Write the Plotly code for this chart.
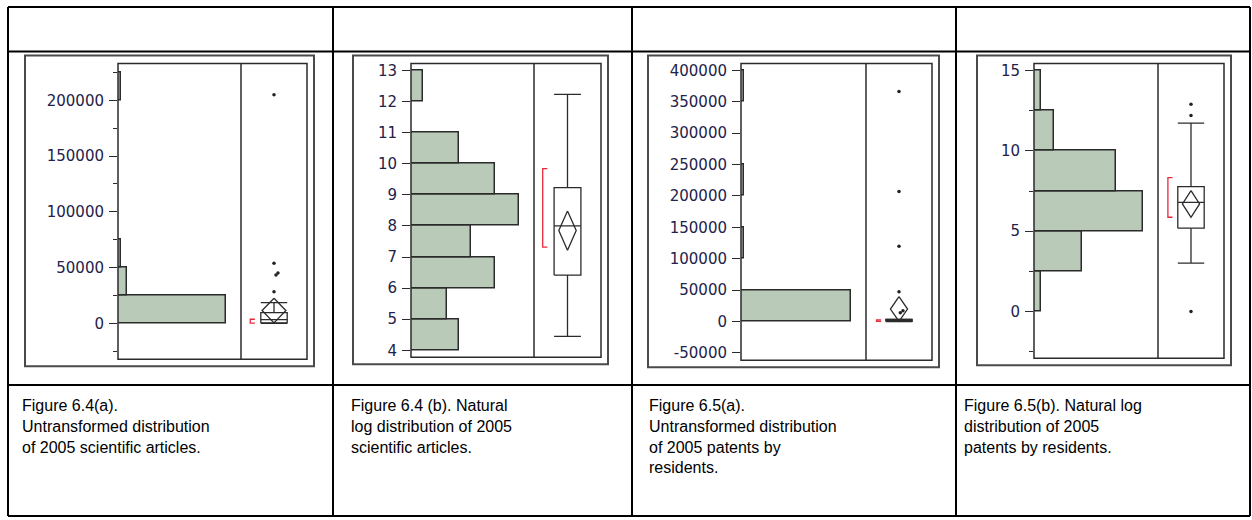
import plotly.graph_objects as go

W, H = 1252, 520

# ---------------- data ----------------
# Fig 6.4(a): scientific articles 2005, bins of 25,000 (lower edges)
art_bins = [0, 25000, 50000, 75000, 100000, 125000, 150000, 175000, 200000]
art_counts = [35, 3, 1, 0, 0, 0, 0, 0, 1]
art_ticks = [0, 50000, 100000, 150000, 200000]
art_outliers = [205000, 54000, 45300, 43500, 28400]
art_box = dict(low=50, q1=500, med=3500, q3=9800, high=18700,
               mean=11600, ci=11000, half_lo=300, half_hi=3800)

# Fig 6.4(b): natural log of scientific articles, bins of 1
ln_art_bins = [4, 5, 6, 7, 8, 9, 10, 11, 12]
ln_art_counts = [4, 3, 7, 5, 9, 7, 4, 0, 1]
ln_art_ticks = [4, 5, 6, 7, 8, 9, 10, 11, 12, 13]
ln_art_outliers = []
ln_art_box = dict(low=4.45, q1=6.42, med=8.0, q3=9.23, high=12.23,
                  mean=7.85, ci=0.63, half_lo=7.32, half_hi=9.84)

# Fig 6.5(a): patents by residents 2005, bins of 50,000
pat_bins = [0, 50000, 100000, 150000, 200000, 250000, 300000, 350000]
pat_counts = [37, 0, 1, 0, 1, 0, 0, 1]
pat_ticks = [-50000, 0, 50000, 100000, 150000, 200000, 250000, 300000, 350000, 400000]
pat_outliers = [366600, 207000, 120000, 47400, 17000, 14000]
pat_box = dict(low=0, q1=300, med=1200, q3=3500, high=3500,
               mean=19800, ci=19700, half_lo=200, half_hi=2500)

# Fig 6.5(b): natural log of patents by residents, bins of 2.5
ln_pat_bins = [0, 2.5, 5, 7.5, 10, 12.5]
ln_pat_counts = [1, 7, 16, 12, 3, 1]
ln_pat_ticks = [0, 5, 10, 15]
ln_pat_outliers = [12.9, 12.2, 0.0]
ln_pat_box = dict(low=3.02, q1=5.19, med=6.79, q3=7.78, high=11.73,
                  mean=6.7, ci=0.83, half_lo=5.87, half_hi=8.33)

captions = [
    "Figure 6.4(a).<br>Untransformed distribution<br>of 2005 scientific articles.",
    "Figure 6.4 (b). Natural<br>log distribution of 2005<br>scientific articles.",
    "Figure 6.5(a).<br>Untransformed distribution<br>of 2005 patents by<br>residents.",
    "Figure 6.5(b). Natural log<br>distribution of 2005<br>patents by residents.",
]

# ---------------- layout of the four panels (pixels) ----------------
panels = [
    dict(bins=art_bins, counts=art_counts, bw=25000, ticks=art_ticks, minor=25000,
         yr=[-32000, 232900], outer=(25, 54, 314, 367), inner=(118, 62, 307, 360), div=241,
         box=art_box, pts=art_outliers, jit=[0, 0, 0.06, 0.03, 0], dhw=0.18, bx=0.14),
    dict(bins=ln_art_bins, counts=ln_art_counts, bw=1, ticks=ln_art_ticks, minor=None,
         yr=[3.777, 13.223], outer=(353, 54, 608, 365), inner=(411, 62, 601, 358), div=534,
         box=ln_art_box, pts=ln_art_outliers, jit=[], dhw=0.13, bx=0.13),
    dict(bins=pat_bins, counts=pat_counts, bw=50000, ticks=pat_ticks, minor=None,
         yr=[-61660, 411070], outer=(648, 54, 939, 368), inner=(741, 62, 932, 361), div=866,
         box=pat_box, pts=pat_outliers, jit=[0, 0, 0, 0, 0.06, 0.02], dhw=0.13, bx=0.16),
    dict(bins=ln_pat_bins, counts=ln_pat_counts, bw=2.5, ticks=ln_pat_ticks, minor=2.5,
         yr=[-2.901, 15.432], outer=(977, 54, 1231, 366), inner=(1034, 62, 1224, 359), div=1158,
         box=ln_pat_box, pts=ln_pat_outliers, jit=[0, 0, 0], dhw=0.13, bx=0.15),
]

GREEN = "#b9cab9"
EDGE = "#2b2b2b"
RED = "#e8283c"
LABEL = "#22224a"


def fx(x):
    return x / W


def fy(y):
    return 1 - y / H


fig = go.Figure()
layout = {}
shapes = []

for i, p in enumerate(panels):
    hx, bxax, ya = 2 * i + 1, 2 * i + 2, i + 1
    hxn, bxn, yn = f"x{hx}", f"x{bxax}", f"y{ya}"
    il, it, ir, ib = p["inner"]

    # histogram bars (horizontal)
    ys, xs = [], []
    for b, c in zip(p["bins"], p["counts"]):
        if c > 0:
            ys.append(b + p["bw"] / 2)
            xs.append(c)
    fig.add_trace(go.Bar(
        x=xs, y=ys, orientation="h", width=p["bw"], xaxis=hxn, yaxis=yn,
        marker=dict(color=GREEN, line=dict(color=EDGE, width=1.5)),
        showlegend=False, hoverinfo="skip"))

    # box plot pieces
    s = p["box"]
    c, hw, ch = 0.5, 0.2, 0.2

    def line(xv, yv, color=EDGE, width=1.3):
        fig.add_trace(go.Scatter(x=xv, y=yv, mode="lines", xaxis=bxn, yaxis=yn,
                                 line=dict(color=color, width=width),
                                 showlegend=False, hoverinfo="skip"))

    # whiskers and caps
    line([c, c], [s["q3"], s["high"]])
    line([c, c], [s["q1"], s["low"]])
    line([c - ch, c + ch], [s["high"], s["high"]])
    line([c - ch, c + ch], [s["low"], s["low"]])
    # box and median
    line([c - hw, c + hw, c + hw, c - hw, c - hw], [s["q1"], s["q1"], s["q3"], s["q3"], s["q1"]])
    line([c - hw, c + hw], [s["med"], s["med"]])
    # mean diamond
    d = p["dhw"]
    line([c, c + d, c, c - d, c],
         [s["mean"] + s["ci"], s["mean"], s["mean"] - s["ci"], s["mean"], s["mean"] + s["ci"]])
    # shortest-half bracket
    b0 = p["bx"]
    line([b0 + 0.07, b0, b0, b0 + 0.07], [s["half_hi"], s["half_hi"], s["half_lo"], s["half_lo"]],
         color=RED, width=1.3)
    # outlying points
    if p["pts"]:
        fig.add_trace(go.Scatter(
            x=[c + j for j in p["jit"]], y=p["pts"], mode="markers", xaxis=bxn, yaxis=yn,
            marker=dict(color="#222", size=3.5), showlegend=False, hoverinfo="skip"))

    xmax = max(p["counts"]) * 1.139
    layout[f"xaxis{hx}"] = dict(domain=[fx(il), fx(p["div"])], range=[0, xmax], visible=False,
                                fixedrange=True, anchor=yn)
    layout[f"xaxis{bxax}"] = dict(domain=[fx(p["div"]), fx(ir)], range=[0, 1], visible=False,
                                  fixedrange=True, anchor=yn)
    yax = dict(domain=[fy(ib), fy(it)], range=p["yr"], anchor=hxn,
               tickmode="array", tickvals=p["ticks"], ticktext=[str(t) for t in p["ticks"]],
               ticks="outside", ticklen=8, tickwidth=1.3, tickcolor=EDGE,
               tickfont=dict(family="DejaVu Sans", size=15, color=LABEL),
               showline=False, showgrid=False, zeroline=False, fixedrange=True,
               ticklabelstandoff=2)
    if p["minor"]:
        yax["minor"] = dict(ticks="outside", ticklen=4, tickwidth=1.3, tickcolor=EDGE,
                            dtick=p["minor"], tick0=0, showgrid=False)
    layout[f"yaxis{ya}"] = yax

    # frames
    ol, ot, orr, ob = p["outer"]
    shapes.append(dict(type="rect", xref="paper", yref="paper", x0=fx(ol), x1=fx(orr),
                       y0=fy(ob), y1=fy(ot), line=dict(color="#4a4a4a", width=2)))
    shapes.append(dict(type="rect", xref="paper", yref="paper", x0=fx(il), x1=fx(ir),
                       y0=fy(ib), y1=fy(it), line=dict(color=EDGE, width=1.5)))
    shapes.append(dict(type="line", xref="paper", yref="paper", x0=fx(p["div"]), x1=fx(p["div"]),
                       y0=fy(ib), y1=fy(it), line=dict(color=EDGE, width=1.5)))

# table grid
col_x = [8, 333, 632, 956, 1250]
row_y = [5, 50, 386, 518]
for x in col_x:
    shapes.append(dict(type="line", xref="paper", yref="paper", x0=fx(x), x1=fx(x),
                       y0=fy(row_y[-1]), y1=fy(row_y[0]), line=dict(color="black", width=2)))
for y in row_y:
    shapes.append(dict(type="line", xref="paper", yref="paper", x0=fx(col_x[0]), x1=fx(col_x[-1]),
                       y0=fy(y), y1=fy(y), line=dict(color="black", width=2)))

caption_x = [20, 349, 647, 962]
annotations = []
for x, t in zip(caption_x, captions):
    annotations.append(dict(x=fx(x), y=fy(396), xref="paper", yref="paper", text=t,
                            showarrow=False, xanchor="left", yanchor="top", align="left",
                            font=dict(family="Liberation Sans, Arial", size=16, color="black")))

fig.update_layout(
    width=W, height=H, margin=dict(l=0, r=0, t=0, b=0),
    paper_bgcolor="white", plot_bgcolor="rgba(0,0,0,0)",
    shapes=shapes, annotations=annotations, bargap=0, showlegend=False,
    **layout)

fig.write_html("out.html", config={"displayModeBar": False})
